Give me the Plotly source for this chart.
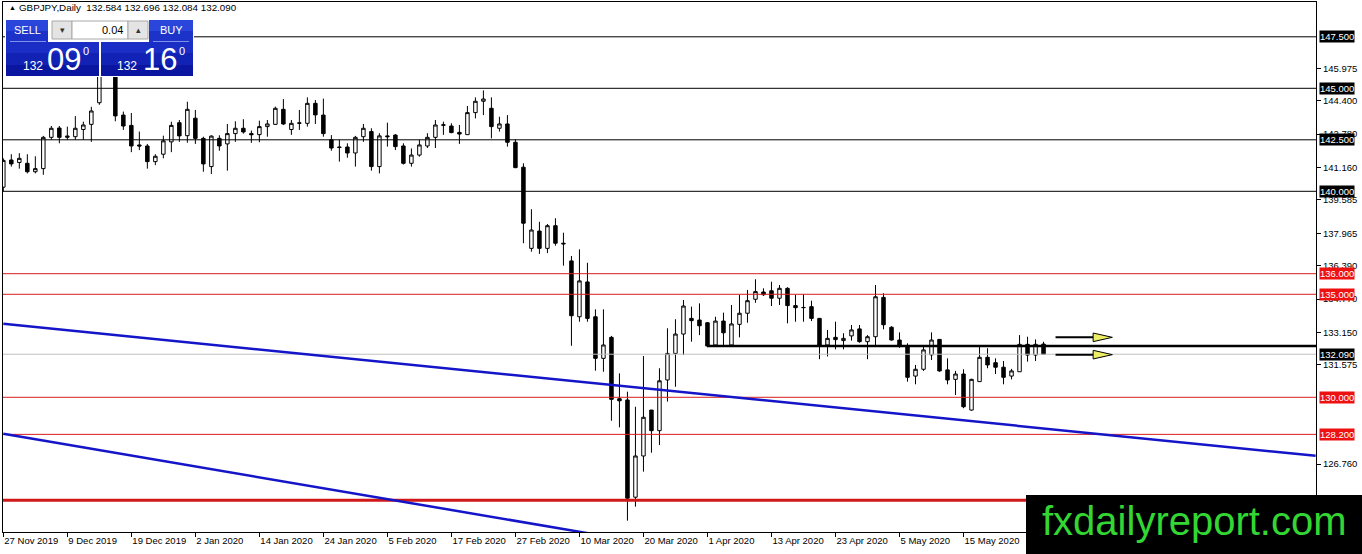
import pandas as pd
import plotly.graph_objects as go

# --- trading days on the chart (no bars on 25 Dec and 1 Jan) ---
first_day = "2019-11-27"
last_day = "2020-05-29"
holidays = ["2019-12-25", "2020-01-01"]
dates = pd.bdate_range(first_day, last_day).drop(pd.to_datetime(holidays))

# --- GBPJPY daily OHLC ---
opens = [
    140.20, 141.52, 141.40, 141.36, 140.95, 141.10, 142.62, 143.07, 142.62, 142.65,
    143.00, 143.25, 144.30, 146.20, 146.50, 143.70, 143.20, 142.25, 142.20, 141.44,
    141.80, 142.40, 143.33, 142.70, 143.55, 142.57, 141.20, 142.57, 142.30, 142.80,
    143.06, 142.80, 142.75, 143.14, 143.25, 143.98, 143.00, 143.30, 143.30, 144.27,
    143.70, 142.50, 142.15, 142.15, 141.86, 142.65, 142.90, 141.20, 142.69, 142.73,
    142.20, 141.36, 141.76, 142.20, 142.62, 143.20, 143.17, 142.86, 142.75, 143.82,
    144.37, 144.03, 143.06, 143.27, 142.38, 141.17, 137.23, 138.07, 137.23, 138.33,
    137.48, 136.62, 133.91, 135.60, 133.91, 131.89, 132.91, 129.93, 129.87, 125.15,
    127.15, 129.38, 128.38, 130.84, 132.13, 133.07, 133.83, 133.75, 133.62, 132.54,
    133.70, 132.54, 133.54, 134.08, 134.76, 135.11, 135.17, 134.81, 135.29, 134.45,
    134.35, 134.40, 133.83, 132.54, 132.91, 132.75, 132.98, 133.32, 132.70, 132.94,
    134.85, 133.40, 132.78, 132.50, 131.03, 131.36, 132.06, 132.81, 131.33, 130.87,
    131.13, 129.38, 130.76, 131.94, 131.68, 131.46, 131.03, 131.24, 132.57, 132.05,
    132.584,
]
highs = [
    141.60, 141.80, 141.85, 141.80, 141.70, 142.69, 143.17, 143.17, 143.14, 143.65,
    143.38, 144.10, 147.95, 147.40, 146.70, 143.87, 143.80, 142.90, 142.30, 141.80,
    142.70, 143.38, 143.46, 144.35, 143.95, 142.65, 142.72, 142.72, 143.27, 143.40,
    143.50, 142.95, 143.43, 143.46, 144.11, 144.48, 143.46, 143.95, 144.56, 144.43,
    144.50, 142.73, 142.50, 142.33, 142.69, 143.27, 143.06, 142.82, 143.33, 142.78,
    142.33, 142.08, 142.50, 142.82, 143.46, 143.38, 143.30, 143.22, 144.14, 144.56,
    144.90, 144.56, 143.62, 143.70, 142.52, 141.36, 139.13, 138.52, 138.41, 138.69,
    137.99, 136.86, 137.18, 136.53, 134.27, 134.27, 132.98, 131.16, 130.27, 129.54,
    132.00, 129.38, 131.41, 133.35, 133.79, 134.72, 134.40, 134.56, 133.65, 133.91,
    134.11, 134.48, 134.97, 135.21, 135.73, 135.29, 135.61, 135.45, 135.34, 134.97,
    135.00, 134.69, 133.85, 133.27, 133.67, 133.11, 133.51, 133.51, 133.02, 135.45,
    135.05, 133.45, 133.15, 132.62, 131.57, 132.54, 133.15, 132.83, 131.89, 131.28,
    131.36, 130.90, 132.46, 132.38, 131.89, 131.76, 131.38, 133.02, 132.94, 132.81,
    132.696,
]
lows = [
    140.00, 141.20, 141.10, 140.87, 140.87, 140.80, 142.50, 142.33, 142.50, 142.50,
    142.50, 142.40, 144.20, 145.90, 143.40, 142.98, 141.90, 142.00, 141.10, 141.27,
    141.60, 141.90, 142.40, 142.36, 142.30, 140.95, 140.84, 141.97, 141.00, 142.40,
    142.80, 142.35, 142.38, 142.65, 143.22, 143.22, 142.74, 142.98, 143.14, 143.27,
    142.65, 141.97, 141.44, 141.63, 141.20, 142.40, 141.00, 140.87, 142.17, 142.00,
    141.30, 141.20, 141.68, 142.10, 142.10, 142.74, 142.82, 142.30, 142.75, 143.54,
    143.70, 142.57, 142.90, 142.17, 141.12, 137.48, 137.07, 136.96, 137.00, 137.36,
    136.39, 132.50, 133.67, 133.67, 131.29, 131.24, 128.86, 128.54, 124.01, 124.69,
    126.39, 127.31, 127.68, 129.79, 130.51, 132.05, 132.70, 133.02, 132.43, 132.54,
    132.54, 132.49, 132.91, 133.62, 134.59, 134.92, 134.43, 134.48, 133.59, 133.67,
    133.67, 133.70, 131.85, 131.98, 132.33, 132.33, 132.75, 132.65, 131.85, 132.54,
    133.30, 132.75, 132.40, 130.76, 130.63, 131.28, 131.81, 131.24, 130.63, 130.11,
    129.47, 129.35, 130.76, 131.41, 131.13, 130.63, 130.87, 131.24, 131.73, 131.76,
    132.084,
]
closes = [
    141.50, 141.33, 141.60, 140.95, 141.10, 142.62, 143.06, 142.62, 142.68, 143.06,
    143.22, 143.90, 146.20, 146.40, 143.66, 143.17, 142.20, 142.20, 141.44, 141.70,
    142.45, 143.20, 142.69, 143.98, 142.57, 141.33, 142.68, 142.20, 142.80, 143.06,
    142.88, 142.75, 143.14, 143.27, 144.03, 143.27, 143.30, 143.32, 144.27, 143.71,
    142.80, 142.10, 142.13, 141.86, 142.62, 143.06, 141.20, 142.69, 142.65, 142.17,
    141.36, 141.76, 142.25, 142.62, 143.22, 143.23, 142.85, 142.78, 143.82, 144.37,
    144.48, 143.14, 143.27, 142.38, 141.15, 138.45, 138.12, 137.23, 138.33, 137.48,
    137.45, 133.96, 135.65, 133.83, 131.89, 132.54, 129.90, 129.83, 125.10, 127.15,
    129.03, 128.38, 130.80, 132.13, 133.07, 134.43, 133.72, 133.47, 132.49, 133.70,
    133.13, 133.56, 134.08, 134.69, 135.13, 134.98, 134.81, 135.29, 134.45, 134.35,
    134.36, 133.83, 132.54, 132.86, 132.80, 132.86, 133.27, 132.70, 132.94, 134.88,
    133.52, 132.78, 132.50, 130.97, 131.36, 132.30, 132.78, 131.28, 130.84, 131.13,
    129.54, 130.87, 131.94, 131.57, 131.46, 130.97, 131.28, 132.57, 132.05, 132.57,
    132.090,
]

# --- axis labels ---
tick_dates = ["2019-11-27", "2019-12-09", "2019-12-19", "2020-01-02", "2020-01-14",
              "2020-01-24", "2020-02-05", "2020-02-17", "2020-02-27", "2020-03-10",
              "2020-03-20", "2020-04-01", "2020-04-13", "2020-04-23", "2020-05-05",
              "2020-05-15"]
tick_text = ["27 Nov 2019", "9 Dec 2019", "19 Dec 2019", "2 Jan 2020", "14 Jan 2020",
             "24 Jan 2020", "5 Feb 2020", "17 Feb 2020", "27 Feb 2020", "10 Mar 2020",
             "20 Mar 2020", "1 Apr 2020", "13 Apr 2020", "23 Apr 2020", "5 May 2020",
             "15 May 2020"]
price_ticks = [145.975, 144.400, 142.780, 141.160, 139.585, 137.965, 136.390,
               134.770, 133.150, 131.575, 126.760]

# --- drawn objects ---
black_levels = [147.5, 145.0, 142.5, 140.0]
red_levels = [136.0, 135.0, 130.0, 128.2]
thick_red_level = 125.0
bid_price = 132.090
ask_price = 132.160
support_level = 132.49
support_from = "2020-04-01"
upper_trend_x = [0, 164]
upper_trend_y = [133.57, 127.16]
lower_trend_x = [0, 100]
lower_trend_y = [128.23, 121.62]
arrow_levels = [132.91, 132.07]
arrow_x = [131.5, 136.2, 138.6]

x = list(range(len(dates)))
x_end = 164.05

# pixel -> paper helpers for the trading panel / watermark
def px(v):
    return (v - 3) / 1313

def py(v):
    return (532 - v) / 530

fig = go.Figure()

fig.add_trace(go.Candlestick(
    x=x, open=opens, high=highs, low=lows, close=closes,
    increasing=dict(fillcolor="white", line=dict(color="black", width=1)),
    decreasing=dict(fillcolor="black", line=dict(color="black", width=1)),
    whiskerwidth=0, hoverinfo="skip", showlegend=False,
))

shapes = []
for lv in black_levels:
    shapes.append(dict(type="line", xref="paper", x0=0, x1=1, y0=lv, y1=lv,
                       line=dict(color="black", width=1)))
for lv in red_levels:
    shapes.append(dict(type="line", xref="paper", x0=0, x1=1, y0=lv, y1=lv,
                       line=dict(color="#d81e1e", width=1)))
shapes.append(dict(type="line", xref="paper", x0=0, x1=1, y0=thick_red_level, y1=thick_red_level,
                   line=dict(color="#d01818", width=3)))
shapes.append(dict(type="line", xref="paper", x0=0, x1=1, y0=bid_price, y1=bid_price,
                   line=dict(color="#c0c0c0", width=1)))
shapes.append(dict(type="line", x0=upper_trend_x[0], x1=upper_trend_x[1],
                   y0=upper_trend_y[0], y1=upper_trend_y[1], line=dict(color="#1414c8", width=2.5)))
shapes.append(dict(type="line", x0=lower_trend_x[0], x1=lower_trend_x[1],
                   y0=lower_trend_y[0], y1=lower_trend_y[1], line=dict(color="#1414c8", width=2.5)))
sup_x = dates.get_loc(pd.Timestamp(support_from))
shapes.append(dict(type="line", x0=sup_x, x1=x_end, y0=support_level, y1=support_level,
                   line=dict(color="black", width=2.5)))

# yellow arrows
for lv in arrow_levels:
    shapes.append(dict(type="line", x0=arrow_x[0], x1=arrow_x[1], y0=lv, y1=lv,
                       line=dict(color="black", width=2)))
    shapes.append(dict(type="path",
                       path=f"M {arrow_x[1]},{lv + 0.21} L {arrow_x[2]},{lv} L {arrow_x[1]},{lv - 0.21} Z",
                       fillcolor="#eeee66", line=dict(color="black", width=1)))

# one-click trading panel
def rect(x0, y0, x1, y1, fill, line=None):
    shapes.append(dict(type="rect", xref="paper", yref="paper",
                       x0=px(x0), x1=px(x1), y0=py(y1), y1=py(y0),
                       fillcolor=fill, line=dict(width=1 if line else 0, color=line or fill)))

rect(5, 19, 194, 77, "white")
for bx0, bx1 in [(6, 48), (149, 193)]:
    rect(bx0, 20, bx1, 31, "#2a46da")
    rect(bx0, 31, bx1, 42, "#1c32c8")
for bx0, bx1 in [(6, 99), (101, 193)]:
    rect(bx0, 42, bx1, 53, "#1a2ec6")
    rect(bx0, 53, bx1, 65, "#1222b4")
    rect(bx0, 65, bx1, 76, "#0a16a0")
rect(52, 21, 72, 39, "#e4e4e4", "#a8a8a8")
rect(72, 21, 128, 39, "white", "#a8a8a8")
rect(128, 21, 148, 39, "#e4e4e4", "#a8a8a8")
for sx0, sx1 in [(10, 46), (153, 189)]:
    shapes.append(dict(type="line", xref="paper", yref="paper", x0=px(sx0), x1=px(sx1),
                       y0=py(41.5), y1=py(41.5), line=dict(color="#8090e8", width=1)))

# watermark box
rect(1026, 495, 1362, 554, "black")

fig.update_layout(shapes=shapes)

font = "Liberation Sans, Arial, sans-serif"
ann = []

def text(xp, yp, t, size, color="black", xa="left", **kw):
    ann.append(dict(xref="paper", yref="paper", x=px(xp), y=py(yp), text=t, showarrow=False,
                    xanchor=xa, yanchor="middle", font=dict(family=font, size=size, color=color), **kw))

ohlc_text = f"{opens[-1]:.3f} {highs[-1]:.3f} {lows[-1]:.3f} {closes[-1]:.3f}"
text(7, 8, "▲", 7)
text(17, 8, "GBPJPY,Daily\u00a0\u00a0" + ohlc_text, 9.8)

bid_str = f"{bid_price:.3f}"
ask_str = f"{ask_price:.3f}"
text(27, 30, "SELL", 11, "white", "center")
text(171, 30, "BUY", 11, "white", "center")
text(125, 30, "0.04", 11, "black", "right")
text(62, 30, "▾", 9, "#333333", "center")
text(138, 30, "▴", 9, "#333333", "center")
for big_x, small_x, sup_x_pos, p in [(64, 33, 86, bid_str), (160, 127, 182, ask_str)]:
    text(small_x, 66, p[:3], 12, "white", "center")
    text(big_x, 60, p[4:6], 31, "white", "center")
    text(sup_x_pos, 51, p[6], 11, "white", "center")

# boxed price labels on the right axis
for lv, bg in ([(v, "black") for v in black_levels] + [(v, "#ee1111") for v in red_levels]
               + [(bid_price, "black")]):
    ann.append(dict(xref="paper", yref="y", x=1, y=lv, xanchor="left", yanchor="middle",
                    xshift=3, text=f"{lv:.3f}", showarrow=False, bgcolor=bg, borderpad=0,
                    font=dict(family=font, size=9.5, color="white")))

text(1194, 521, "fxdailyreport.com", 40, "#33d633", "center")

fig.update_layout(annotations=ann)

fig.update_layout(
    width=1362, height=554,
    margin=dict(l=3, r=46, t=2, b=22),
    paper_bgcolor="white", plot_bgcolor="white",
    boxgap=0.38,
    showlegend=False,
    font=dict(family=font, size=9.5, color="black"),
    xaxis=dict(
        range=[-0.04, x_end], showgrid=False, zeroline=False,
        showline=True, mirror=True, linecolor="black", linewidth=1,
        rangeslider=dict(visible=False),
        tickmode="array",
        tickvals=[dates.get_loc(pd.Timestamp(d)) for d in tick_dates],
        ticktext=tick_text, ticks="outside", ticklen=4, tickcolor="black",
        ticklabelposition="outside right",
        tickfont=dict(family=font, size=9.5, color="black"),
    ),
    yaxis=dict(
        range=[123.46, 149.19], side="right", showgrid=False, zeroline=False,
        showline=True, mirror=True, linecolor="black", linewidth=1,
        tickmode="array", tickvals=price_ticks, ticktext=[f"{v:.3f}" for v in price_ticks],
        ticks="outside", ticklen=4, tickcolor="black",
        tickfont=dict(family=font, size=9.5, color="black"),
    ),
)

# the page body has a default 8px margin; drop it so the chart sits at 0,0
fig.write_html("out.html", config={"displayModeBar": False},
               post_script="document.body.style.margin='0';")
